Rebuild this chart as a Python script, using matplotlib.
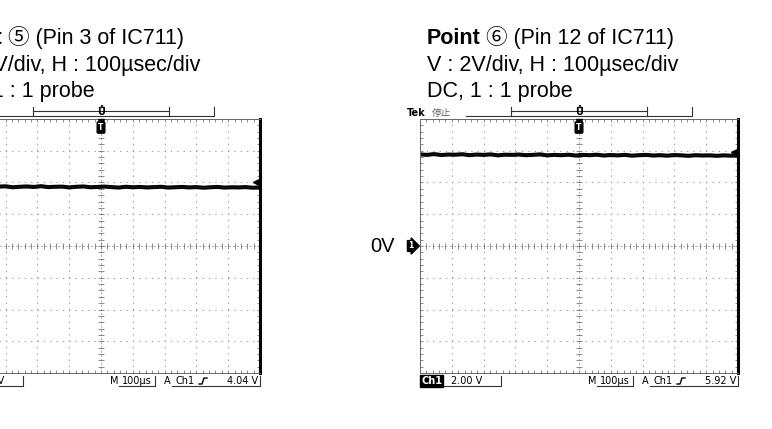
import matplotlib
matplotlib.use('Agg')
import matplotlib.pyplot as plt
from matplotlib.ticker import MultipleLocator
import numpy as np

W, H = 772, 429
plt.rcParams['font.family'] = ['Liberation Sans', 'Noto Sans CJK JP', 'DejaVu Sans']
plt.rcParams['lines.scale_dashes'] = False

# ---- data ----
POINT_MARKS = ['⑤', '⑥']
PIN_TEXT = ['(Pin 3 of IC711)', '(Pin 12 of IC711)']
SETTING_LINES = ['V : 2V/div, H : 100µsec/div', 'DC, 1 : 1 probe']
VOLT_DIV = 2.0          # V/div
TIME_DIV = 100          # us/div
CH1_SCALE = '2.00 V'
TIMEBASE = '100µs'
TRIG_LEVEL = [4.04, 5.92]

# Ch1 trace (V), sampled evenly across the 10 divisions
TRACE_5 = [3.76, 3.72, 3.78, 3.70, 3.75, 3.73, 3.77, 3.71, 3.74, 3.76,
           3.70, 3.73, 3.75, 3.72, 3.77, 3.71, 3.73, 3.74, 3.69, 3.73,
           3.75, 3.70, 3.72, 3.74, 3.71, 3.68, 3.73, 3.70, 3.72, 3.69,
           3.71, 3.73, 3.68, 3.70, 3.72, 3.69, 3.71, 3.67, 3.70, 3.72,
           3.68, 3.70, 3.69, 3.71, 3.67, 3.69]
TRACE_6 = [5.77, 5.74, 5.79, 5.73, 5.76, 5.75, 5.78, 5.72, 5.76, 5.74,
           5.77, 5.71, 5.75, 5.74, 5.76, 5.72, 5.74, 5.77, 5.71, 5.74,
           5.72, 5.75, 5.70, 5.74, 5.72, 5.75, 5.70, 5.73, 5.71, 5.74,
           5.69, 5.72, 5.74, 5.70, 5.72, 5.69, 5.73, 5.71, 5.68, 5.72,
           5.70, 5.71, 5.68, 5.71, 5.69, 5.70]
TRACES = [TRACE_5, TRACE_6]

# ---- layout (pixels) ----
GRID_LEFT = [-58, 420]
GRID_TOP, GRID_W, GRID_H = 119, 318, 254

fig = plt.figure(figsize=(W / 100, H / 100), dpi=100)
fig.patch.set_facecolor('white')

DOTS = (0, (0.9, 3.67))
MONO = dict(family='DejaVu Sans', fontsize=7)


def draw_grid(gx, trace, trig):
    ax = fig.add_axes([gx / W, 1 - (GRID_TOP + GRID_H) / H, GRID_W / W, GRID_H / H])
    ax.set_xlim(-5 * TIME_DIV, 5 * TIME_DIV)
    ax.set_ylim(-4 * VOLT_DIV, 4 * VOLT_DIV)

    # dotted graticule
    for x in np.arange(-4, 5) * TIME_DIV:
        if x != 0:
            ax.axvline(x, color='#999', lw=0.8, ls=DOTS)
    for y in np.arange(-3, 4) * VOLT_DIV:
        if y != 0:
            ax.axhline(y, color='#999', lw=0.8, ls=DOTS)

    # centre cross with sub-division ticks
    ax.axhline(0, color='#999', lw=0.6, ls=(0, (1.5, 1.5)))
    ax.axvline(0, color='#999', lw=0.6, ls=(0, (1.5, 1.5)))
    xs = np.arange(-25, 26) * TIME_DIV / 5
    ys = np.arange(-20, 21) * VOLT_DIV / 5
    ax.plot(xs, np.zeros_like(xs), ls='none', marker='|', ms=4, mew=0.6, color='#777')
    ax.plot(np.zeros_like(ys), ys, ls='none', marker='_', ms=4, mew=0.6, color='#777')

    # edge ticks
    ax.xaxis.set_major_locator(MultipleLocator(TIME_DIV))
    ax.xaxis.set_minor_locator(MultipleLocator(TIME_DIV / 5))
    ax.yaxis.set_major_locator(MultipleLocator(VOLT_DIV))
    ax.yaxis.set_minor_locator(MultipleLocator(VOLT_DIV / 5))
    ax.tick_params(which='both', direction='in', length=2.5, width=0.6, color='#777',
                   top=True, right=True, labelbottom=False, labelleft=False)
    for side in ['left', 'top', 'bottom']:
        ax.spines[side].set(color='#666', lw=0.7)
    ax.spines['right'].set(color='black', lw=2.2)

    # waveform
    t = np.linspace(-5 * TIME_DIV, 5 * TIME_DIV, len(trace))
    ax.plot(t, trace, color='black', lw=2.9, solid_joinstyle='miter')
    ax.plot(t, trace, color='#222', lw=0.6, alpha=0.8)

    # trigger level arrow on the right edge
    ax.plot([4.86 * TIME_DIV], [trig], marker='<', ms=4.5, color='black', clip_on=False)
    return ax


axes = [draw_grid(gx, tr, tl) for gx, tr, tl in zip(GRID_LEFT, TRACES, TRIG_LEVEL)]

# overlay in pixel coordinates for the scope annotations and captions
ov = fig.add_axes([0, 0, 1, 1])
ov.set_xlim(0, W)
ov.set_ylim(H, 0)
ov.axis('off')
ov.set_zorder(10)

renderer = fig.canvas.get_renderer()
TITLE_FS = 15.5

for gx, mark, pin, trig in zip(GRID_LEFT, POINT_MARKS, PIN_TEXT, TRIG_LEVEL):
    # caption
    tx = gx + 7
    t = ov.text(tx, 44, 'Point', fontsize=TITLE_FS, fontweight='bold', va='baseline')
    bw = t.get_window_extent(renderer).width
    ov.text(tx + bw + 5, 44, f'{mark} {pin}', fontsize=TITLE_FS, va='baseline')
    ov.text(tx, 71, SETTING_LINES[0], fontsize=TITLE_FS, va='baseline')
    ov.text(tx, 97, SETTING_LINES[1], fontsize=TITLE_FS, va='baseline')

    # header: Tek status and record ruler
    ov.text(gx - 13, 113, 'Tek', family='DejaVu Sans', fontsize=7, fontweight='bold', va='center')
    ov.text(gx + 12, 113, '停止', family='Noto Sans CJK JP', fontsize=7, color='#666', va='center')
    ov.plot([gx + 46, gx + 272, gx + 272], [116, 116, 107], color='#333', lw=0.8)
    ov.plot([gx + 91, gx + 91], [107, 116], color='#333', lw=0.8)
    ov.plot([gx + 227, gx + 227], [107, 116], color='#333', lw=0.8)
    ov.plot([gx + 91, gx + 227], [111, 111], color='#333', lw=0.8)
    ov.text(gx + 159, 112, 'Ů', family='DejaVu Sans', fontsize=7, fontweight='bold',
            ha='center', va='center')

    # trigger position marker inside the graticule
    ov.plot(gx + 159, 121.5, marker='v', ms=4, color='black')
    ov.text(gx + 159, 127.5, 'T', family='DejaVu Sans', fontsize=5.5, fontweight='bold',
            color='white', ha='center', va='center',
            bbox=dict(boxstyle='round,pad=0.15', fc='black', ec='black'))

    # channel ground marker
    ov.text(gx - 9, 246, '1', family='DejaVu Sans', fontsize=5.5, fontweight='bold',
            color='white', ha='center', va='center',
            bbox=dict(boxstyle='rarrow,pad=0.12', fc='black', ec='black'))
    ov.text(gx - 25, 246, '0V', fontsize=14.5, ha='right', va='center')

    # bottom status line
    sy = 381
    ov.text(gx + 1, sy, 'Ch1', color='white', fontweight='bold', va='center',
            bbox=dict(boxstyle='square,pad=0.08', fc='black', ec='black'), **MONO)
    ov.text(gx + 31, sy, CH1_SCALE, va='center', **MONO)
    ov.plot([gx + 20, gx + 81, gx + 81], [386, 386, 376], color='#333', lw=0.8)
    ov.text(gx + 168, sy, 'M', va='center', **MONO)
    ov.text(gx + 180, sy, TIMEBASE, va='center', **MONO)
    ov.plot([gx + 177, gx + 213, gx + 213], [386, 386, 376], color='#333', lw=0.8)
    ov.text(gx + 222, sy, 'A', va='center', **MONO)
    ov.plot([gx + 230, gx + 318, gx + 318], [386, 386, 376], color='#333', lw=0.8)
    ov.text(gx + 233, sy, 'Ch1', va='center', **MONO)
    ov.plot([gx + 257, gx + 260, gx + 262, gx + 265], [384, 384, 378, 378], color='black', lw=1.0)
    ov.text(gx + 316, sy, f'{trig:.2f} V', ha='right', va='center', **MONO)

fig.savefig('out.png', dpi=100, facecolor='white')
